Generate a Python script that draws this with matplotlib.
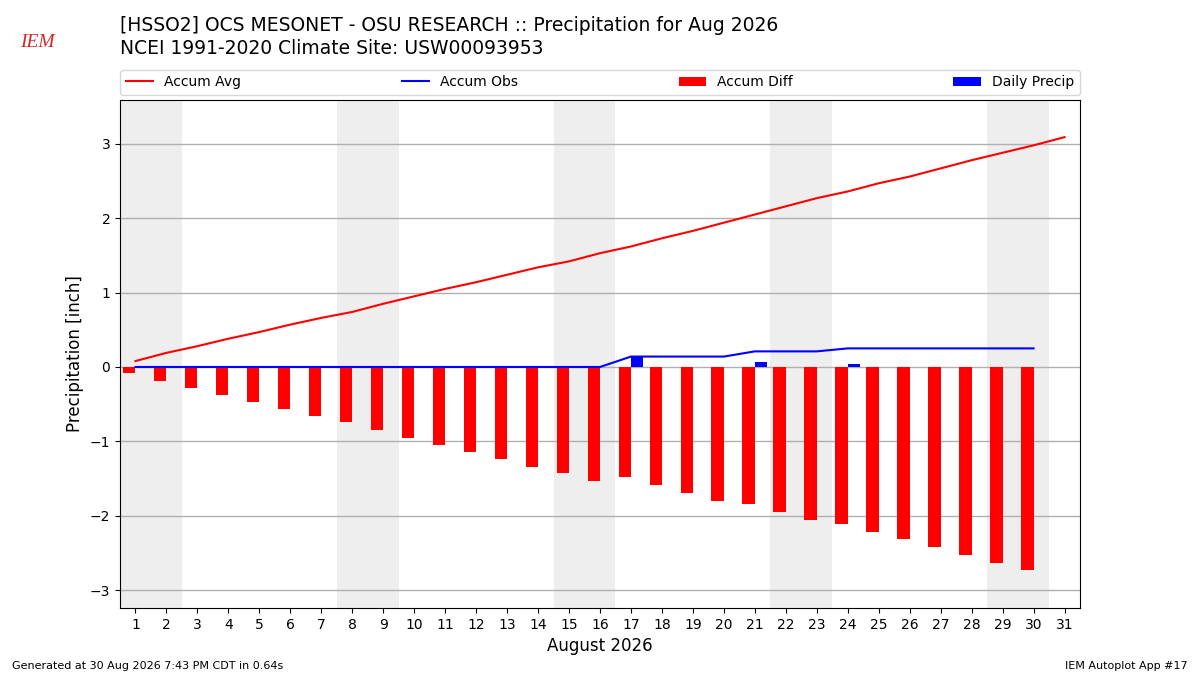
import numpy as np
import matplotlib
matplotlib.use("Agg")
import matplotlib.pyplot as plt

days = list(range(1, 32))
# accumulated climatology (inch), Aug 1..31
accum_avg = [0.08, 0.19, 0.28, 0.38, 0.47, 0.57, 0.66, 0.74, 0.85, 0.95,
             1.05, 1.14, 1.24, 1.34, 1.42, 1.53, 1.62, 1.73, 1.83, 1.94,
             2.05, 2.16, 2.27, 2.36, 2.47, 2.56, 2.67, 2.78, 2.88, 2.98, 3.09]
# observed daily precip, Aug 1..30
daily_precip = [0, 0, 0, 0, 0, 0, 0, 0, 0, 0,
                0, 0, 0, 0, 0, 0, 0.14, 0, 0, 0,
                0.07, 0, 0, 0.04, 0, 0, 0, 0, 0, 0]
weekend_starts = [1, 8, 15, 22, 29]

obs_days = days[:len(daily_precip)]
accum_obs = np.cumsum(daily_precip)
accum_diff = accum_obs - np.array(accum_avg[:len(daily_precip)])

fig = plt.figure(figsize=(12, 6.75), dpi=100)
ax = fig.add_axes([0.1, 0.0993, 0.8, 0.7526])

for d in weekend_starts:
    ax.axvspan(d - 0.5, d + 1.5, color="#eeeeee", zorder=0, lw=0)

ax.grid(True, axis="y", color="#b0b0b0", lw=1, zorder=1)
ax.set_axisbelow(True)

l1, = ax.plot(days, accum_avg, color="r", lw=1.5, label="Accum Avg", zorder=3)
l2, = ax.plot(obs_days, accum_obs, color="b", lw=1.5, label="Accum Obs", zorder=3)
b1 = ax.bar(obs_days, accum_diff, width=-0.4, align="edge", color="r",
            label="Accum Diff", zorder=2)
b2 = ax.bar(obs_days, daily_precip, width=0.4, align="edge", color="b",
            label="Daily Precip", zorder=2)

ax.set_xlim(0.5, 31.5)
ax.set_ylim(-3.24, 3.59)
ax.set_xticks(days)
ax.set_yticks([-3, -2, -1, 0, 1, 2, 3])
ax.tick_params(labelsize=10)
ax.set_xlabel("August 2026", fontsize=12)
ax.set_ylabel("Precipitation [inch]", fontsize=12)

ax.legend(handles=[l1, l2, b1, b2], loc="lower left",
          bbox_to_anchor=(0, 1.01, 1, 0.05), mode="expand", ncol=4,
          borderaxespad=0, fontsize=10)

fig.text(0.1, 0.962, "[HSSO2] OCS MESONET - OSU RESEARCH :: Precipitation for Aug 2026",
         fontsize=13.5, va="center", ha="left")
fig.text(0.1, 0.928, "NCEI 1991-2020 Climate Site: USW00093953",
         fontsize=13.5, va="center", ha="left")

# rough stand-in for the IEM logo
fig.text(0.031, 0.937, "IEM", color="#d62728", fontsize=14, style="italic",
         family="Liberation Serif", ha="center", va="center")

fig.text(0.01, 0.014, "Generated at 30 Aug 2026 7:43 PM CDT in 0.64s",
         fontsize=8, ha="left", va="center")
fig.text(0.99, 0.014, "IEM Autoplot App #17", fontsize=8, ha="right", va="center")

fig.savefig("out.png", dpi=100)
